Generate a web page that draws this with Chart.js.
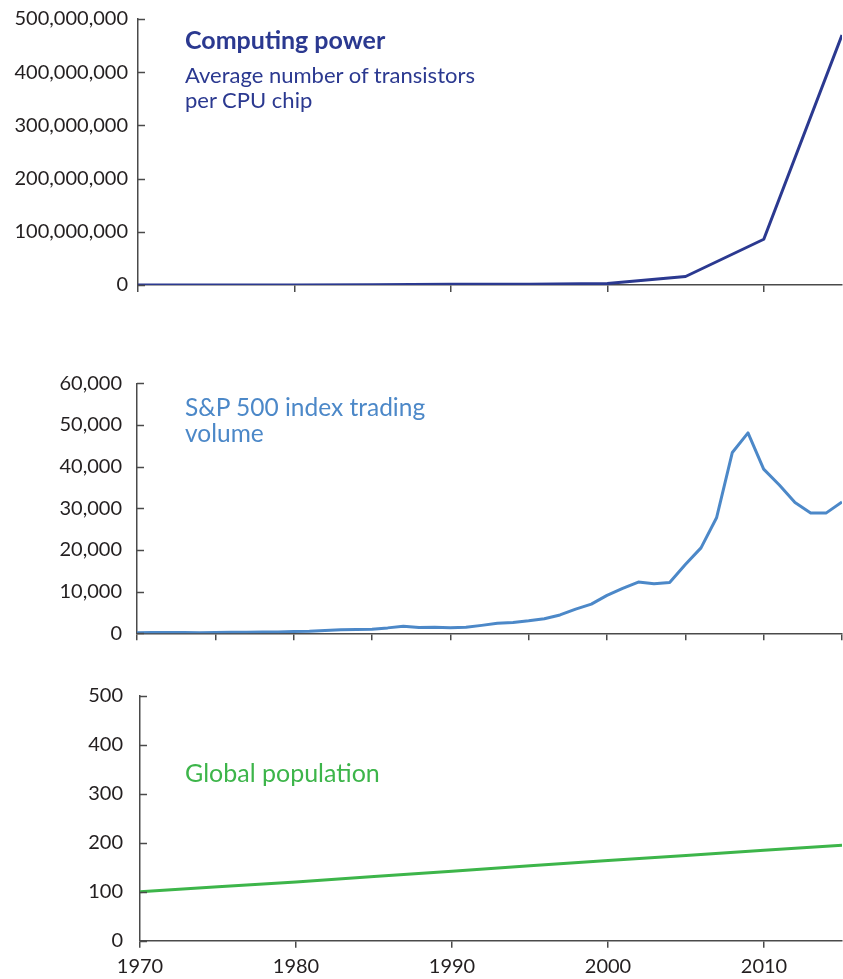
<!DOCTYPE html>
<html><head><meta charset="utf-8">
<script src="https://cdn.jsdelivr.net/npm/chart.js@4"></script>
<style>
html,body{margin:0;padding:0;background:#fff}
body{width:843px;height:979px;position:relative;overflow:hidden;font-family:Lato,"Open Sans",sans-serif}
canvas{position:absolute;left:0}
.lbl{position:absolute;white-space:nowrap;left:185px}
</style></head><body>
<canvas id="c1" style="top:0px"></canvas>
<canvas id="c2" style="top:350px"></canvas>
<canvas id="c3" style="top:670px"></canvas>
<div class="lbl" style="top:23.6px;font-size:25px;line-height:30px;font-weight:700;color:#2b3990">Computing power</div>
<div class="lbl" style="top:62.3px;font-size:22px;line-height:25px;color:#2b3990">Average number of transistors<br>per CPU chip</div>
<div class="lbl" style="top:394.2px;font-size:24.5px;line-height:26px;color:#4c88c8">S&amp;P 500 index trading<br>volume</div>
<div class="lbl" style="top:757px;font-size:25px;line-height:30px;color:#3db54a">Global population</div>
<script>
// ---- data ----
const cpuYears = [1970, 1975, 1980, 1985, 1990, 1995, 2000, 2005, 2010, 2015];
const cpuTransistors = [2300, 6500, 29000, 275000, 1200000, 1500000, 3000000, 16000000, 86000000, 470000000];

const spYears = [1970,1971,1972,1973,1974,1975,1976,1977,1978,1979,1980,1981,1982,1983,1984,1985,1986,1987,1988,1989,1990,1991,1992,1993,1994,1995,1996,1997,1998,1999,2000,2001,2002,2003,2004,2005,2006,2007,2008,2009,2010,2011,2012,2013,2014,2015];
const spVolume = [150,180,190,180,160,200,250,250,300,330,450,470,650,850,900,1000,1300,1700,1400,1450,1350,1450,1900,2400,2600,3000,3500,4400,5800,7000,9100,10800,12300,11900,12200,16500,20500,27800,43400,48100,39400,35600,31400,28900,28900,31500];

const popYears = [1970, 1975, 1980, 1985, 1990, 1995, 2000, 2005, 2010, 2015];
const popIndex = [100, 110, 120, 131, 142, 153, 164, 174, 185, 195];

const cpuYTicks = [0, 100000000, 200000000, 300000000, 400000000, 500000000];
const spYTicks = [0, 10000, 20000, 30000, 40000, 50000, 60000];
const popYTicks = [0, 100, 200, 300, 400, 500];
const xTicksDecade = [1970, 1980, 1990, 2000, 2010];
const xTicksFive = [1970, 1975, 1980, 1985, 1990, 1995, 2000, 2005, 2010, 2015];
const xMin = 1970, xMax = 2015;

// ---- drawing ----
const AXIS = '#4a4a4a';
const FONT = 'Lato, "Open Sans", sans-serif';

const innerYTicks = {
  id: 'innerYTicks',
  afterDraw(chart) {
    const y = chart.scales.y, ctx = chart.ctx, L = chart.chartArea.left;
    ctx.save();
    ctx.strokeStyle = AXIS; ctx.lineWidth = 1.5;
    y.ticks.forEach((t, i) => {
      const py = Math.round(y.getPixelForTick(i)) + 0.5;
      ctx.beginPath(); ctx.moveTo(L, py); ctx.lineTo(L + 7, py); ctx.stroke();
    });
    ctx.restore();
  }
};

function panel(id, h, area, years, vals, color, yTicks, xTicks, showXLabels, yPad) {
  const cv = document.getElementById(id);
  cv.width = 843; cv.height = h;
  cv.style.width = '843px'; cv.style.height = h + 'px';
  const yMax = yTicks[yTicks.length - 1];
  return new Chart(cv, {
    type: 'line',
    data: { datasets: [{
      data: years.map((yr, i) => ({ x: yr, y: vals[i] })),
      borderColor: color, borderWidth: 3, pointRadius: 0, tension: 0, fill: false,
      borderJoinStyle: 'round', borderCapStyle: 'butt'
    }]},
    options: {
      responsive: false, animation: false, devicePixelRatio: 1,
      layout: { padding: { top: area.top, right: 843 - area.right, left: 0, bottom: 0 } },
      plugins: { legend: { display: false }, tooltip: { enabled: false }, title: { display: false } },
      scales: {
        x: {
          type: 'linear', min: xMin, max: xMax,
          afterBuildTicks: s => { s.ticks = xTicks.map(v => ({ value: v })); },
          afterFit: s => { s.height = h - area.bottom; s.paddingLeft = 0; s.paddingRight = 0; },
          grid: { drawOnChartArea: false, drawTicks: true, tickLength: 7, color: AXIS, lineWidth: 1.5 },
          border: { display: true, color: AXIS, width: 1.5 },
          ticks: { display: showXLabels, padding: 7, color: '#231f20', font: { family: FONT, size: 20 }, maxRotation: 0, autoSkip: false,
            callback: v => String(v) }
        },
        y: {
          type: 'linear', min: 0, max: yMax,
          afterBuildTicks: s => { s.ticks = yTicks.map(v => ({ value: v })); },
          afterFit: s => { s.width = area.left; s.paddingTop = 0; s.paddingBottom = 0; },
          grid: { drawOnChartArea: false, drawTicks: false },
          border: { display: true, color: AXIS, width: 1.5 },
          ticks: { padding: yPad, color: '#231f20', font: { family: FONT, size: 20 }, autoSkip: false,
            callback: v => v.toLocaleString('en-US') }
        }
      }
    },
    plugins: [innerYTicks]
  });
}

panel('c1', 300, { left: 138, top: 19, bottom: 285, right: 842 }, cpuYears, cpuTransistors, '#2b3990', cpuYTicks, xTicksDecade, false, 10);
panel('c2', 300, { left: 137, top: 33.3, bottom: 283.3, right: 842 }, spYears, spVolume, '#4c88c8', spYTicks, xTicksFive, false, 15);
panel('c3', 309, { left: 140, top: 26, bottom: 270.7, right: 842 }, popYears, popIndex, '#3db54a', popYTicks, xTicksDecade, true, 17);
</script>
</body></html>
